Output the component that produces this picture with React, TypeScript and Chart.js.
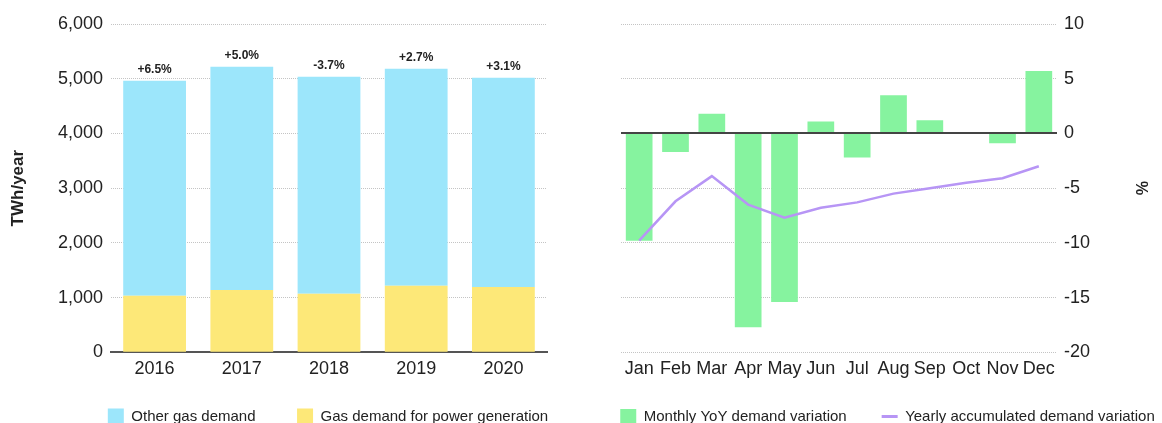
import React, { useEffect, useRef } from 'react';
import { Chart, registerables } from 'chart.js';

Chart.register(...registerables);

const FONT = "'Liberation Sans', Arial, Helvetica, sans-serif";
Chart.defaults.font.family = FONT;
Chart.defaults.color = '#222';

// ---- Left chart data ----
const years = ['2016', '2017', '2018', '2019', '2020'];
const powerGenDemand = [1035, 1140, 1072, 1218, 1194];
const otherGasDemand = [3928, 4079, 3964, 3964, 3823];
const growthLabels = ['+6.5%', '+5.0%', '-3.7%', '+2.7%', '+3.1%'];

// ---- Right chart data ----
const months = ['Jan', 'Feb', 'Mar', 'Apr', 'May', 'Jun', 'Jul', 'Aug', 'Sep', 'Oct', 'Nov', 'Dec'];
const monthlyYoY = [-9.8, -1.7, 1.8, -17.7, -15.4, 1.1, -2.2, 3.5, 1.2, 0.1, -0.9, 5.7];
const yearlyAccumulated = [-9.8, -6.2, -3.9, -6.5, -7.7, -6.8, -6.3, -5.5, -5.0, -4.5, -4.1, -3.0];

const CYAN = '#9ce6fb';
const YELLOW = '#fde878';
const GREEN = '#86f39f';
const PURPLE = '#b795f5';
const GRID = '#c4c4c4';

const gridColor = (ctx: any) => (ctx.tick && ctx.tick.value === 0 ? 'rgba(0,0,0,0)' : GRID);

const growthLabelPlugin = {
  id: 'growthLabels',
  afterDatasetsDraw(chart: any) {
    const meta = chart.getDatasetMeta(1);
    const ctx = chart.ctx;
    ctx.save();
    ctx.font = `bold 12px ${FONT}`;
    ctx.fillStyle = '#222';
    ctx.textAlign = 'center';
    ctx.textBaseline = 'middle';
    meta.data.forEach((bar: any, i: number) => {
      ctx.fillText(growthLabels[i], bar.x, bar.y - 11);
    });
    ctx.restore();
  },
};

const zeroLinePlugin = {
  id: 'zeroLine',
  afterDatasetsDraw(chart: any) {
    const y = Math.round(chart.scales.y.getPixelForValue(0));
    const { left, right } = chart.chartArea;
    const ctx = chart.ctx;
    ctx.save();
    ctx.strokeStyle = '#444';
    ctx.lineWidth = 2;
    ctx.beginPath();
    ctx.moveTo(left, y);
    ctx.lineTo(right, y);
    ctx.stroke();
    ctx.restore();
  },
};

// x-axis tick labels sit below the axis; mirror + negative padding avoids clipping
const xTicks = {
  mirror: true,
  padding: -27.5,
  color: '#222',
  font: { size: 18 },
  maxRotation: 0,
  minRotation: 0,
  autoSkip: false,
};

export default function App() {
  const leftRef = useRef<HTMLCanvasElement>(null);
  const rightRef = useRef<HTMLCanvasElement>(null);

  useEffect(() => {
    const left = new Chart(leftRef.current as HTMLCanvasElement, {
      type: 'bar',
      data: {
        labels: years,
        datasets: [
          {
            label: 'Gas demand for power generation',
            data: powerGenDemand,
            backgroundColor: YELLOW,
            xAxisID: 'x',
            yAxisID: 'y',
            categoryPercentage: 1,
            barPercentage: 0.72,
          },
          {
            label: 'Other gas demand',
            data: otherGasDemand,
            backgroundColor: CYAN,
            xAxisID: 'x',
            yAxisID: 'y',
            categoryPercentage: 1,
            barPercentage: 0.72,
          },
        ],
      },
      options: {
        responsive: false,
        animation: false,
        devicePixelRatio: 1,
        events: [],
        layout: { padding: { top: 24, left: 0, right: 0, bottom: 0.5 } },
        plugins: {
          tooltip: { enabled: false },
          legend: {
            position: 'bottom',
            reverse: true,
            labels: {
              boxWidth: 16,
              boxHeight: 16,
              padding: 41.5,
              color: '#222',
              font: { size: 15, family: FONT },
            },
          },
        },
        scales: {
          y: {
            stacked: true,
            min: 0,
            max: 6000,
            ticks: { stepSize: 1000, padding: 8, color: '#222', font: { size: 18 } },
            grid: { color: gridColor, lineWidth: 1, drawTicks: false },
            border: { display: false, dash: [1, 1] },
            title: {
              display: true,
              text: 'TWh/year',
              color: '#222',
              font: { size: 17, weight: 'bold' },
              padding: { top: 8, bottom: 0 },
            },
            afterFit: (s: any) => {
              s.width = 111;
            },
          },
          x: {
            stacked: true,
            grid: { display: false, drawTicks: false },
            border: { display: true, color: '#555', width: 2 },
            ticks: xTicks,
            afterFit: (s: any) => {
              s.height = 14.7;
            },
          },
          yR: {
            position: 'right',
            display: true,
            grid: { display: false, drawTicks: false },
            ticks: { display: false },
            border: { display: false },
            afterFit: (s: any) => {
              s.width = 109;
            },
          },
        },
      } as any,
      plugins: [growthLabelPlugin],
    });

    const right = new Chart(rightRef.current as HTMLCanvasElement, {
      type: 'bar',
      data: {
        labels: months,
        datasets: [
          {
            type: 'bar',
            label: 'Monthly YoY demand variation',
            data: monthlyYoY,
            backgroundColor: GREEN,
            order: 1,
            xAxisID: 'x',
            yAxisID: 'y',
            categoryPercentage: 1,
            barPercentage: 0.735,
          },
          {
            type: 'line',
            label: 'Yearly accumulated demand variation',
            data: yearlyAccumulated,
            borderColor: PURPLE,
            backgroundColor: PURPLE,
            borderWidth: 2.5,
            pointRadius: 0,
            tension: 0,
            fill: false,
            order: 0,
            xAxisID: 'x',
            yAxisID: 'y',
          },
        ] as any,
      },
      options: {
        responsive: false,
        animation: false,
        devicePixelRatio: 1,
        events: [],
        layout: { padding: { top: 24, left: 0, right: 0, bottom: 1 } },
        plugins: {
          tooltip: { enabled: false },
          legend: {
            position: 'bottom',
            labels: {
              usePointStyle: true,
              pointStyleWidth: 16,
              boxHeight: 16,
              padding: 35,
              color: '#222',
              font: { size: 15, family: FONT },
              generateLabels: (chart: any) =>
                chart.data.datasets.map((ds: any, i: number) => ({
                  text: ds.label,
                  datasetIndex: i,
                  fillStyle: i === 0 ? GREEN : 'rgba(0,0,0,0)',
                  strokeStyle: i === 0 ? GREEN : PURPLE,
                  lineWidth: i === 0 ? 0 : 3,
                  pointStyle: i === 0 ? 'rect' : 'line',
                  hidden: false,
                  fontColor: '#222',
                })),
            },
          },
        },
        scales: {
          y: {
            position: 'right',
            min: -20,
            max: 10,
            ticks: { stepSize: 5, padding: 7, color: '#222', font: { size: 18 } },
            grid: { color: gridColor, lineWidth: 1, drawTicks: false },
            border: { display: false, dash: [1, 1] },
            title: {
              display: true,
              text: '%',
              color: '#222',
              font: { size: 16, weight: 'bold' },
              padding: { top: 55.4, bottom: 0 },
            },
            afterFit: (s: any) => {
              s.width = 148;
            },
          },
          x: {
            grid: { display: false, drawTicks: false },
            border: { display: false },
            ticks: xTicks,
            afterFit: (s: any) => {
              s.height = 21.7;
            },
          },
          yL: {
            position: 'left',
            display: true,
            grid: { display: false, drawTicks: false },
            ticks: { display: false },
            border: { display: false },
            afterFit: (s: any) => {
              s.width = 51;
            },
          },
        },
      } as any,
      plugins: [zeroLinePlugin],
    });

    return () => {
      left.destroy();
      right.destroy();
    };
  }, []);

  return (
    <div
      style={{
        position: 'absolute',
        left: 0,
        top: 0,
        width: 1162,
        height: 423,
        overflow: 'hidden',
        background: '#fff',
      }}
    >
      <canvas ref={leftRef} width={656} height={435} style={{ position: 'absolute', left: 0, top: 0 }} />
      <canvas ref={rightRef} width={635} height={435} style={{ position: 'absolute', left: 570, top: 0 }} />
    </div>
  );
}
